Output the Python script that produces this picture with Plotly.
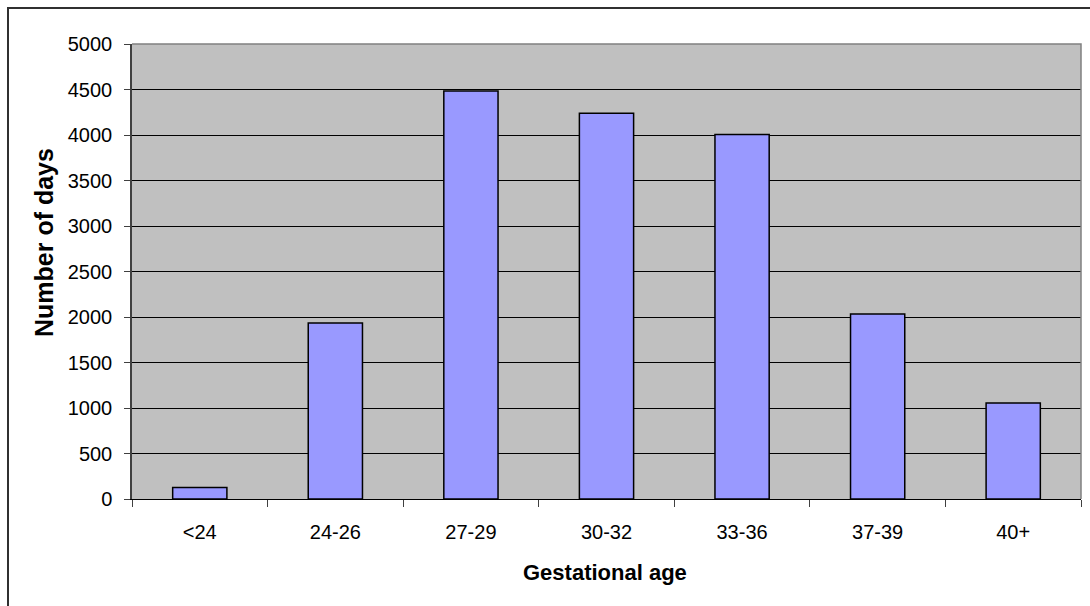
import plotly.graph_objects as go

# Days of care by gestational age band
categories = ["<24", "24-26", "27-29", "30-32", "33-36", "37-39", "40+"]
days = [127, 1935, 4483, 4240, 4005, 2033, 1055]

y_ticks = list(range(0, 5001, 500))

W, H = 1090, 606
L, R, T, B = 132, 9, 44, 107
pw, ph = W - L - R, H - T - B


def px_x(p):
    return (p - L) / pw


def px_y(p):
    return (H - B - p) / ph


font_family = "Liberation Sans, Arial, sans-serif"

fig = go.Figure(
    go.Bar(
        x=categories,
        y=days,
        width=0.4,
        marker=dict(color="#9999FF", line=dict(color="#000000", width=1.5)),
        hoverinfo="x+y",
    )
)

fig.update_layout(
    width=W,
    height=H,
    margin=dict(l=L, r=R, t=T, b=B, pad=0),
    paper_bgcolor="#FFFFFF",
    plot_bgcolor="#C0C0C0",
    showlegend=False,
    font=dict(family=font_family, size=20, color="#000000"),
    bargap=0.6,
)

fig.update_xaxes(
    type="category",
    showgrid=False,
    showline=True,
    linecolor="#000000",
    linewidth=1,
    ticks="outside",
    tickson="boundaries",
    ticklen=7,
    tickcolor="#404040",
    tickwidth=1,
    ticklabelstandoff=15,
    tickfont=dict(size=20),
)

fig.update_yaxes(
    range=[0, 5000],
    tickvals=y_ticks,
    ticktext=[str(v) for v in y_ticks],
    showgrid=True,
    gridcolor="#000000",
    gridwidth=1,
    zeroline=False,
    showline=True,
    linecolor="#404040",
    linewidth=1.5,
    ticks="outside",
    ticklen=6,
    tickcolor="#404040",
    tickwidth=1,
    ticklabelstandoff=8,
    tickfont=dict(size=20),
)

# gray frame on the top and right of the plot area
fig.add_shape(
    type="path",
    path="M 0,1 L 1,1 L 1,0",
    xref="x domain",
    yref="y domain",
    line=dict(color="#808080", width=1.5),
)

# outer chart border
fig.add_shape(
    type="rect",
    xref="paper",
    yref="paper",
    x0=px_x(8),
    x1=px_x(W + 10),
    y0=px_y(H + 10),
    y1=px_y(8),
    line=dict(color="#303030", width=2),
    fillcolor="rgba(0,0,0,0)",
    layer="above",
)

fig.add_annotation(
    text="<b>Gestational age</b>",
    xref="paper",
    yref="paper",
    x=px_x(605),
    y=px_y(572),
    xanchor="center",
    yanchor="middle",
    showarrow=False,
    font=dict(size=22, family=font_family),
)

fig.add_annotation(
    text="<b>Number of days</b>",
    xref="paper",
    yref="paper",
    x=px_x(44),
    y=px_y(243),
    xanchor="center",
    yanchor="middle",
    textangle=-90,
    showarrow=False,
    font=dict(size=25, family=font_family),
)

fig.write_html("out.html")
